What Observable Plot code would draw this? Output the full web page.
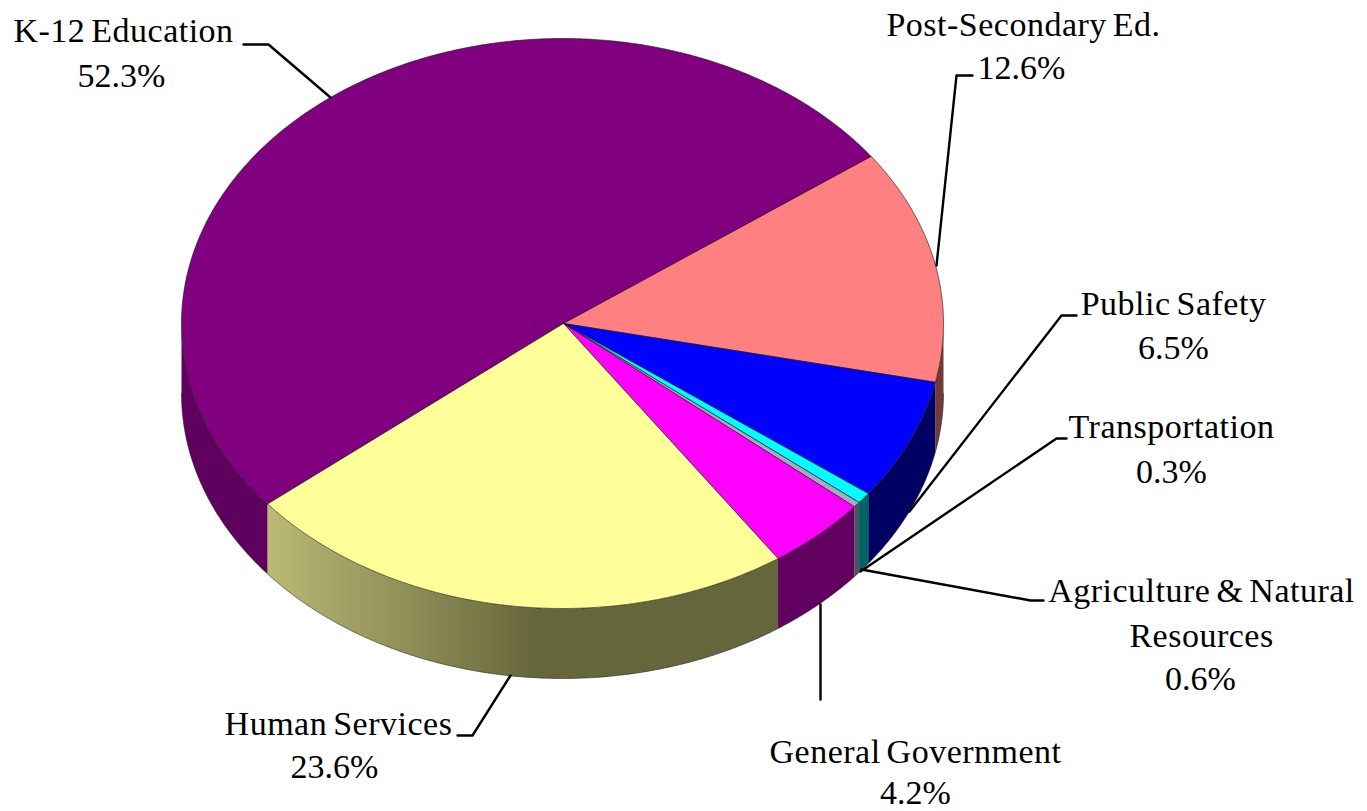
<!DOCTYPE html>
<html>
<head>
<meta charset="utf-8">
<script src="https://cdn.jsdelivr.net/npm/d3@7"></script>
<script src="https://cdn.jsdelivr.net/npm/@observablehq/plot@0.6"></script>
<style>
html,body{margin:0;padding:0;background:#fff;overflow:hidden}
svg{display:block}
.names{word-spacing:-3px;letter-spacing:.5px}
</style>
</head>
<body>
<script>
// Data
const categories = ["K-12 Education","Post-Secondary Ed.","Public Safety","Agriculture & Natural Resources","Transportation","General Government","Human Services"];
const shares = [52.3,12.6,6.5,0.6,0.3,4.2,23.6];
const topColors = ["#800080","#ff8080","#0000ff","#00ffff","#a8a8c8","#ff00ff","#ffff99"];
const wallColors = ["#5f005f","#733a3a","#000064","#006464","#505060","#620062","url(#wallShade)"];

// Geometry of the tilted disc
const cx = 562, cy = 323, rx = 381, ry = 285, depth = 70, startDeg = 219.3;
const rad = d => d * Math.PI / 180;
const total = d3.sum(shares);
// slight perspective: stretches the slices facing upper right
const warp = t => t + 4.7 * Math.pow((1 + Math.cos(rad(t - 35))) / 2, 4);
const angleAt = f => warp(startDeg - 360 * f);
const rimX = a => cx + rx * Math.cos(rad(a));
const rimY = (a, dz = 0) => cy - ry * Math.sin(rad(a)) + dz;

let acc = 0;
const slices = categories.map((name, i) => {
  const a0 = angleAt(acc / total);
  acc += shares[i];
  const a1 = angleAt(acc / total);
  return {name, a0, a1, top: topColors[i], wall: wallColors[i]};
});

const arc = (a0, a1) => {
  const n = Math.max(2, Math.ceil(Math.abs(a0 - a1) * 2));
  return d3.range(n + 1).map(k => a0 + (a1 - a0) * k / n);
};

// top faces
const topPts = slices.flatMap(s => [
  {id: s.name, x: cx + 1, y: cy, fill: s.top},
  ...arc(s.a0, s.a1).map(a => ({id: s.name, x: rimX(a), y: rimY(a), fill: s.top})),
  {id: s.name, x: cx + 1, y: cy, fill: s.top}
]);

// walls: only the near half of the rim
const wallPts = [];
slices.forEach(s => {
  [0, -360, 360].forEach(shift => {
    const hi = Math.min(s.a0 + shift, 0), lo = Math.max(s.a1 + shift, -180);
    if (hi > lo) {
      const as = arc(hi, lo), id = s.name + shift;
      as.forEach(a => wallPts.push({id, x: rimX(a), y: rimY(a)}));
      as.slice().reverse().forEach(a => wallPts.push({id, x: rimX(a), y: rimY(a, depth)}));
      wallPts.filter(p => p.id === id).forEach(p => p.fill = s.wall);
    }
  });
});

const edgeBot = arc(-180, 0).map(a => ({x: rimX(a), y: rimY(a, depth), id: "b"}));

// Annotation layout
const leaders = [
  {id:"k12", pts:[[330,97],[268,44],[243,44]]},
  {id:"post", pts:[[936,265],[956,75],[972,75]]},
  {id:"safety", pts:[[909,511],[1061,315],[1076,315]]},
  {id:"trans", pts:[[860,571],[1056,438],[1066,438]]},
  {id:"agri", pts:[[861,569],[1030,600],[1043,600]]},
  {id:"gov", pts:[[820,604],[820,699]]},
  {id:"human", pts:[[510,675],[472,735],[457,735]]}
].flatMap(l => l.pts.map(([x, y]) => ({id: l.id, x, y})));

const nameLines = [
  {t:"K-12 Education", x:123, y:31},
  {t:"Post-Secondary Ed.", x:1023, y:25},
  {t:"Public Safety", x:1173, y:304},
  {t:"Transportation", x:1171, y:427},
  {t:"Agriculture & Natural", x:1201, y:591},
  {t:"Resources", x:1201, y:636},
  {t:"General Government", x:915, y:752},
  {t:"Human Services", x:338, y:724}
];
const valueLines = [
  {t:"52.3%", x:121, y:76},
  {t:"12.6%", x:1021, y:68},
  {t:"6.5%", x:1173, y:348},
  {t:"0.3%", x:1171, y:472},
  {t:"0.6%", x:1200, y:679},
  {t:"4.2%", x:915, y:793},
  {t:"23.6%", x:334, y:767}
];

const gradientDefs = () => {
  const ns = "http://www.w3.org/2000/svg";
  const defs = document.createElementNS(ns, "defs");
  const g = document.createElementNS(ns, "linearGradient");
  g.setAttribute("id", "wallShade");
  g.setAttribute("gradientUnits", "userSpaceOnUse");
  g.setAttribute("x1", 266); g.setAttribute("x2", 535);
  g.setAttribute("y1", 0); g.setAttribute("y2", 0);
  [["0", "#bbba76"], ["1", "#66663c"]].forEach(([o, c]) => {
    const st = document.createElementNS(ns, "stop");
    st.setAttribute("offset", o); st.setAttribute("stop-color", c);
    g.appendChild(st);
  });
  defs.appendChild(g);
  return defs;
};

const textOpts = {x: "x", y: "y", text: "t", fontFamily: "Liberation Serif", fontSize: 34, fill: "#000", textAnchor: "middle", lineAnchor: "middle"};

const chart = Plot.plot({
  width: 1367, height: 811,
  marginTop: 0, marginRight: 0, marginBottom: 0, marginLeft: 0,
  x: {type: "linear", domain: [0, 1367], range: [0, 1367], axis: null},
  y: {type: "linear", domain: [0, 811], range: [0, 811], axis: null},
  color: {type: "identity"},
  marks: [
    gradientDefs,
    Plot.line(wallPts, {x: "x", y: "y", z: "id", fill: "fill", stroke: null, curve: "linear"}),
    Plot.line(edgeBot, {x: "x", y: "y", z: "id", stroke: "#222", strokeWidth: 0.8, strokeOpacity: 0.7}),
    Plot.line(topPts, {x: "x", y: "y", z: "id", fill: "fill", stroke: "#111", strokeWidth: 0.8, strokeOpacity: 0.75, curve: "linear"}),
    Plot.line(leaders, {x: "x", y: "y", z: "id", stroke: "#000", strokeWidth: 2.4, strokeLinejoin: "round"}),
    Plot.text(nameLines, {...textOpts, className: "names"}),
    Plot.text(valueLines, textOpts)
  ]
});
document.body.appendChild(chart);
</script>
</body>
</html>
